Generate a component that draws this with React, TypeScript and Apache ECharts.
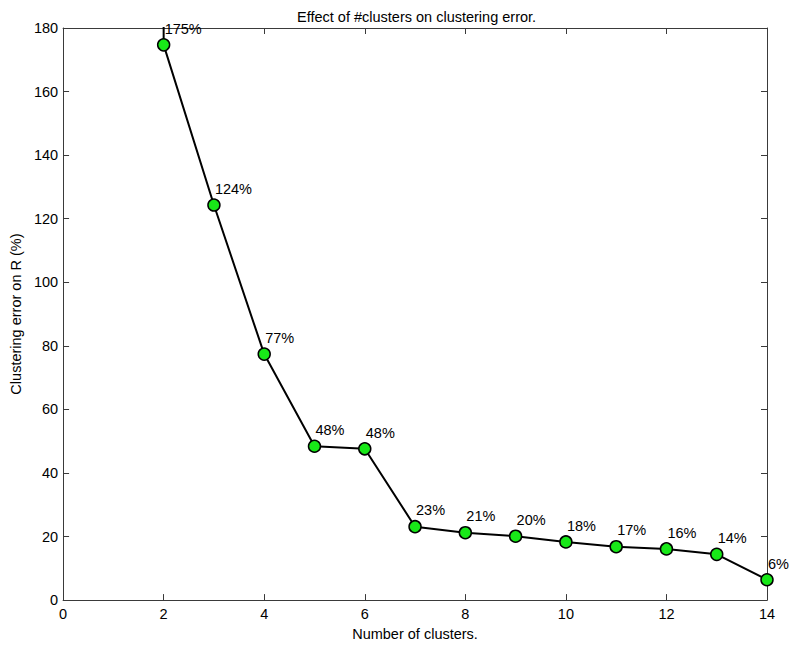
import React, { useEffect, useRef } from "react";
import * as echarts from "echarts";

const clusters = [2, 3, 4, 5, 6, 7, 8, 9, 10, 11, 12, 13, 14];
const errors = [174.7, 124.3, 77.4, 48.4, 47.6, 23.1, 21.2, 20.1, 18.3, 16.8, 16.1, 14.4, 6.4];
// segment leaving the top of the plot at x = 2 (clipped by the axes box)
const overflowX = [2, 2];
const overflowY = [174.7, 195];
const xTicks = [0, 2, 4, 6, 8, 10, 12, 14];
const yTicks = [0, 20, 40, 60, 80, 100, 120, 140, 160, 180];

const FONT = "Liberation Sans, Arial, sans-serif";
const FS = 14.5;

export default function App() {
  const ref = useRef<HTMLDivElement>(null);
  useEffect(() => {
    document.body.style.margin = "0";
    const chart = echarts.init(ref.current!, null, { renderer: "svg" });
    const axisLine = () => ({ show: true, onZero: false, lineStyle: { color: "#3a3a3a", width: 1 } });
    const tick = () => ({ show: true, inside: true, length: 6, lineStyle: { color: "#3a3a3a" } });
    const xMin = xTicks[0], xMax = xTicks[xTicks.length - 1];
    const yMin = yTicks[0], yMax = yTicks[yTicks.length - 1];
    chart.setOption({
      animation: false,
      backgroundColor: "#ffffff",
      title: {
        text: "Effect of #clusters on clustering error.",
        left: 292,
        top: 4,
        textStyle: { fontFamily: FONT, fontSize: FS, fontWeight: "normal", color: "#000" },
      },
      grid: { left: 60, width: 707, top: 28, height: 579, containLabel: false },
      xAxis: [
        {
          type: "value", min: xMin, max: xMax, interval: 2, position: "bottom",
          name: "Number of clusters.", nameLocation: "middle", nameGap: 25,
          nameTextStyle: { fontFamily: FONT, fontSize: FS, color: "#000" },
          axisLine: axisLine(), axisTick: tick(), splitLine: { show: false },
          axisLabel: { fontFamily: FONT, fontSize: FS, color: "#000", margin: 6 },
        },
        {
          type: "value", min: xMin, max: xMax, interval: 2, position: "top",
          axisLine: axisLine(), axisTick: tick(), splitLine: { show: false }, axisLabel: { show: false },
        },
      ],
      yAxis: [
        {
          type: "value", min: yMin, max: yMax, interval: 20, position: "left",
          name: "Clustering error on R (%)", nameLocation: "middle", nameGap: 36,
          nameTextStyle: { fontFamily: FONT, fontSize: FS, color: "#000" },
          axisLine: axisLine(), axisTick: tick(), splitLine: { show: false },
          axisLabel: { fontFamily: FONT, fontSize: FS, color: "#000", margin: 5 },
        },
        {
          type: "value", min: yMin, max: yMax, interval: 20, position: "right",
          axisLine: axisLine(), axisTick: tick(), splitLine: { show: false }, axisLabel: { show: false },
        },
      ],
      series: [
        {
          type: "line",
          data: overflowX.map((x, i) => [x, overflowY[i]]),
          showSymbol: false,
          symbol: "none",
          clip: true,
          lineStyle: { color: "#000", width: 2 },
          z: 1,
        },
        {
          type: "line",
          data: clusters.map((x, i) => [x, errors[i]]),
          clip: false,
          symbol: "circle",
          symbolSize: 12,
          lineStyle: { color: "#000", width: 2 },
          itemStyle: { color: "#18e818", borderColor: "#000", borderWidth: 1.5 },
          label: {
            show: true,
            position: "top",
            align: "left",
            verticalAlign: "bottom",
            distance: 2,
            offset: [1, 0],
            fontFamily: FONT,
            fontSize: FS,
            color: "#000",
            formatter: (p: any) => Math.round(p.value[1]) + "%",
          },
          z: 2,
        },
      ],
    });
    return () => chart.dispose();
  }, []);
  return <div ref={ref} style={{ width: 789, height: 646 }} />;
}
